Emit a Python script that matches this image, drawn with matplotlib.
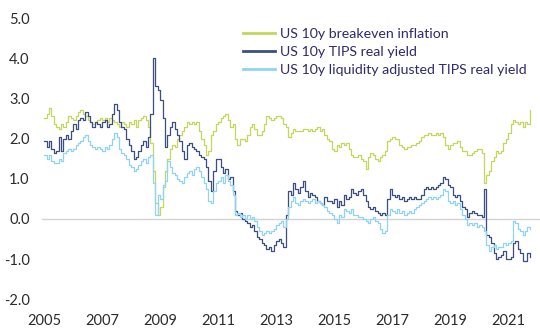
import numpy as np
import matplotlib
matplotlib.use("Agg")
import matplotlib.pyplot as plt

# monthly readings, Jan 2005 onwards (%)
breakeven = [
    2.5, 2.6, 2.75, 2.55, 2.35, 2.3, 2.25, 2.35, 2.3, 2.4, 2.55, 2.5,      # 2005
    2.45, 2.55, 2.65, 2.7, 2.6, 2.55, 2.45, 2.4, 2.35, 2.4, 2.45, 2.5,     # 2006
    2.45, 2.5, 2.4, 2.5, 2.45, 2.4, 2.35, 2.3, 2.4, 2.35, 2.3, 2.4,        # 2007
    2.35, 2.45, 2.3, 2.45, 2.5, 2.55, 2.45, 2.3, 1.9, 1.2, 0.4, 0.1,       # 2008
    0.3, 0.8, 1.2, 1.5, 1.75, 1.85, 1.8, 2.0, 2.1, 2.2, 2.3, 2.4,          # 2009
    2.35, 2.4, 2.35, 2.4, 2.2, 2.0, 1.85, 1.6, 1.7, 2.1, 2.2, 2.35,        # 2010
    2.4, 2.5, 2.55, 2.6, 2.45, 2.3, 2.35, 2.0, 1.85, 2.0, 2.0, 1.95,       # 2011
    2.1, 2.3, 2.35, 2.25, 2.1, 2.1, 2.2, 2.35, 2.55, 2.5, 2.45, 2.5,       # 2012
    2.55, 2.55, 2.5, 2.35, 2.3, 2.05, 2.15, 2.25, 2.2, 2.2, 2.2, 2.25,     # 2013
    2.25, 2.2, 2.25, 2.2, 2.25, 2.3, 2.2, 2.25, 2.1, 2.0, 1.95, 1.75,      # 2014
    1.7, 1.85, 1.8, 1.9, 1.85, 1.9, 1.75, 1.6, 1.55, 1.55, 1.6, 1.5,       # 2015
    1.45, 1.25, 1.55, 1.65, 1.6, 1.5, 1.45, 1.55, 1.6, 1.7, 1.95, 2.0,     # 2016
    2.05, 2.0, 2.0, 1.85, 1.8, 1.75, 1.8, 1.8, 1.85, 1.85, 1.9, 1.95,      # 2017
    2.05, 2.1, 2.1, 2.15, 2.1, 2.1, 2.15, 2.1, 2.15, 2.05, 1.85, 1.75,     # 2018
    1.85, 1.9, 1.9, 1.95, 1.8, 1.7, 1.7, 1.6, 1.6, 1.65, 1.7, 1.75,        # 2019
    1.75, 1.65, 0.9, 1.1, 1.2, 1.45, 1.55, 1.7, 1.65, 1.7, 1.9, 2.0,       # 2020
    2.15, 2.35, 2.45, 2.4, 2.35, 2.4, 2.3, 2.4, 2.35, 2.7,                 # 2021
]

tips_real = [
    1.95, 1.8, 1.95, 1.75, 1.65, 1.7, 2.05, 1.7, 2.0, 2.1, 2.0, 2.2,
    2.35, 2.25, 2.45, 2.5, 2.45, 2.65, 2.55, 2.4, 2.3, 2.4, 2.35, 2.3,
    2.4, 2.45, 2.3, 2.35, 2.6, 2.85, 2.7, 2.4, 2.3, 2.25, 2.0, 1.85,
    1.7, 1.5, 1.55, 1.7, 1.85, 1.95, 1.8, 2.05, 2.6, 4.0, 3.3, 3.2,
    2.95, 2.5, 1.8, 2.1, 2.3, 2.4, 2.25, 2.1, 1.95, 1.7, 1.5, 1.85,
    1.9, 1.8, 1.75, 1.7, 1.6, 1.55, 1.5, 1.3, 0.95, 0.7, 1.2, 1.5,
    1.5, 1.3, 1.15, 1.25, 1.0, 1.05, 0.7, 0.2, 0.1, 0.15, 0.0, -0.05,
    -0.1, -0.2, -0.15, -0.3, -0.45, -0.5, -0.6, -0.65, -0.75, -0.7, -0.8, -0.65,
    -0.55, -0.5, -0.6, -0.7, 0.1, 0.7, 0.6, 0.9, 0.75, 0.65, 0.8, 0.95,
    0.7, 0.55, 0.65, 0.6, 0.55, 0.45, 0.4, 0.35, 0.55, 0.45, 0.45, 0.4,
    0.5, 0.3, 0.45, 0.35, 0.6, 0.5, 0.55, 0.75, 0.65, 0.6, 0.7, 0.75,
    0.6, 0.45, 0.3, 0.25, 0.3, 0.2, 0.15, 0.1, 0.15, 0.1, 0.5, 0.75,
    0.6, 0.55, 0.6, 0.5, 0.55, 0.45, 0.5, 0.55, 0.5, 0.55, 0.5, 0.5,
    0.6, 0.75, 0.8, 0.75, 0.8, 0.75, 0.8, 0.85, 0.9, 1.05, 1.0, 0.85,
    0.8, 0.6, 0.55, 0.6, 0.45, 0.3, 0.25, 0.05, 0.15, 0.2, 0.15, 0.1,
    0.1, 0.05, 0.75, -0.4, -0.45, -0.6, -0.85, -1.0, -0.95, -0.9, -0.8, -1.0,
    -1.0, -0.95, -0.6, -0.55, -0.75, -0.85, -1.05, -1.05, -0.85, -0.95,
]

liq_adj = [
    1.6, 1.5, 1.6, 1.45, 1.4, 1.4, 1.5, 1.45, 1.65, 1.7, 1.75, 1.7,
    1.75, 1.85, 1.9, 1.95, 2.05, 2.1, 1.95, 1.85, 1.8, 1.75, 1.8, 1.75,
    1.7, 1.8, 1.75, 1.85, 2.0, 2.15, 2.05, 1.75, 1.65, 1.6, 1.5, 1.35,
    1.3, 1.2, 1.25, 1.35, 1.45, 1.5, 1.4, 1.55, 1.6, 0.9, 0.1, 0.6,
    0.5, 0.85, 0.95, 1.45, 1.3, 1.15, 1.1, 1.0, 0.95, 0.9, 1.05, 1.15,
    1.2, 1.1, 1.25, 1.3, 1.2, 1.05, 0.9, 0.75, 0.45, 0.4, 0.7, 0.9,
    0.95, 1.05, 0.9, 1.1, 0.95, 0.85, 0.6, 0.1, 0.15, 0.05, 0.1, 0.0,
    0.1, 0.0, 0.05, -0.05, -0.2, -0.3, -0.4, -0.35, -0.3, -0.35, -0.3, -0.25,
    -0.15, -0.1, -0.05, -0.2, 0.0, 0.3, 0.45, 0.55, 0.4, 0.35, 0.45, 0.5,
    0.45, 0.4, 0.45, 0.5, 0.4, 0.45, 0.4, 0.35, 0.3, 0.2, 0.15, 0.1,
    0.0, -0.1, 0.1, 0.05, 0.25, 0.2, 0.15, 0.25, 0.1, 0.1, 0.05, 0.05,
    0.0, -0.05, -0.1, 0.0, 0.05, -0.05, -0.1, -0.25, -0.35, -0.3, 0.1, 0.25,
    0.2, 0.15, 0.25, 0.15, 0.2, 0.1, 0.15, 0.2, 0.15, 0.25, 0.3, 0.35,
    0.4, 0.45, 0.5, 0.55, 0.5, 0.55, 0.5, 0.55, 0.6, 0.75, 0.7, 0.45,
    0.4, 0.45, 0.35, 0.4, 0.25, 0.1, 0.0, -0.15, -0.1, -0.15, -0.1, -0.2,
    -0.15, -0.2, -0.3, -0.65, -0.8, -0.7, -0.65, -0.75, -0.7, -0.7, -0.6, -0.65,
    -0.6, -0.55, -0.05, -0.1, -0.25, -0.3, -0.4, -0.3, -0.2, -0.25,
]

labels = ['US 10y breakeven inflation', 'US 10y TIPS real yield',
          'US 10y liquidity adjusted TIPS real yield']
colors = ['#c5d65b', '#3a4f80', '#8fd4f5']
year_ticks = list(range(2005, 2022, 2))
y_ticks = [-2, -1, 0, 1, 2, 3, 4, 5]

plt.rcParams['font.family'] = ['Lato', 'DejaVu Sans']

fig = plt.figure(figsize=(5.4, 3.35), dpi=100)
ax = fig.add_axes([0.078, 0.107, 0.922, 0.839])

for series, lab, col in zip([breakeven, tips_real, liq_adj], labels, colors):
    t = 2005 + np.arange(len(series)) / 12.0
    ax.plot(t, series, color=col, lw=0.9, drawstyle='steps-post', label=lab)

ax.axhline(0, color='#d3d3d3', lw=1.0, zorder=0)

ax.set_xlim(2004.93, 2022.1)
ax.set_ylim(-2, 5)
ax.set_xticks(year_ticks)
ax.set_xticklabels([str(y) for y in year_ticks])
ax.set_yticks(y_ticks)
ax.set_yticklabels(['%.1f' % v for v in y_ticks])
ax.tick_params(length=0, labelsize=10.5, labelcolor='#2a2a2a')
ax.tick_params(axis='y', pad=9)
ax.tick_params(axis='x', pad=11)
for s in ax.spines.values():
    s.set_visible(False)

leg = ax.legend(loc='upper left', bbox_to_anchor=(0.392, 0.984), frameon=False,
                fontsize=10.2, handlelength=2.25, handletextpad=0.4,
                labelspacing=0.42, borderaxespad=0)
for txt in leg.get_texts():
    txt.set_color('#2e2a6b')
for ln in leg.get_lines():
    ln.set_linewidth(2.0)

fig.savefig('out.png', dpi=100)
